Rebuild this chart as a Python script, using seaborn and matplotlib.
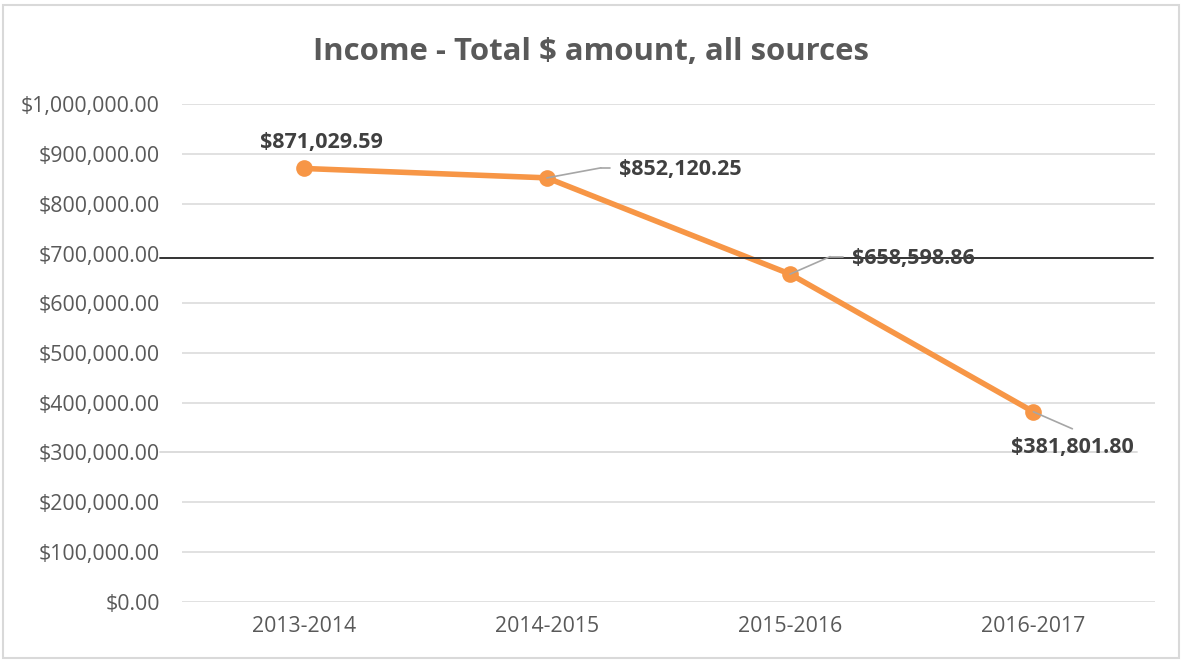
import matplotlib
matplotlib.use("Agg")
import matplotlib.pyplot as plt
import matplotlib.transforms as mtransforms
from matplotlib.patches import Rectangle
from matplotlib.ticker import FuncFormatter, MultipleLocator
import pandas as pd
import seaborn as sns

# chart data
years = ["2013-2014", "2014-2015", "2015-2016", "2016-2017"]
income = [871029.59, 852120.25, 658598.86, 381801.80]
grid_values = [0, 100_000, 200_000, 400_000, 500_000, 600_000, 800_000, 900_000, 1_000_000]
title = "Income - Total $ amount, all sources"

ORANGE = "#F79646"
GRID = "#D9D9D9"
TICK = "#595959"
LABEL = "#404040"

sns.set_theme(style="white")
plt.rcParams["font.family"] = ["Open Sans", "DejaVu Sans"]

df = pd.DataFrame({"year": years, "income": income})

fig = plt.figure(figsize=(11.82, 6.6), dpi=100)
ax = fig.add_axes([182 / 1182, 1 - 601.7 / 660, (1155 - 182) / 1182, (601.7 - 104.3) / 660])

sns.lineplot(data=df, x="year", y="income", ax=ax, color=ORANGE, linewidth=4,
             marker="o", markersize=12, markeredgewidth=0, sort=False, zorder=5)

ax.set_xlim(-0.5, 3.5)
ax.set_ylim(0, 1_000_000)
ax.yaxis.set_major_locator(MultipleLocator(100_000))
ax.yaxis.set_major_formatter(FuncFormatter(lambda v, p: f"${v:,.2f}"))
ax.grid(False)
for s in ax.spines.values():
    s.set_visible(False)
ax.set_xlabel("")
ax.set_ylabel("")
ax.tick_params(axis="y", labelsize=15.3, labelcolor=TICK, length=0, pad=16)
ax.tick_params(axis="x", labelsize=15.3, labelcolor=TICK, length=0, pad=10)

# gridlines; the 300k and 700k ones are drawn by hand in the source
for g in grid_values:
    ax.axhline(g, color=GRID, linewidth=1.1, zorder=1)
ax.axhline(300_000, xmin=-22 / 973, xmax=(1137 - 182) / 973, color=GRID, linewidth=1.3, clip_on=False, zorder=1)
ax.axhline(691_600, xmin=-22 / 973, xmax=(1153 - 182) / 973, color="#333333", linewidth=1.4, clip_on=False, zorder=6)

# data labels, offsets in pixels from each point (x right, y up)
px = 0.72
label_offsets = [(18, 26, "center"), (72, 8, "left"), (62, 16, "left"), (39, -36, "center")]
leaders = [None, [(0, 0), (54, 10), (63, 10)], [(0, 0), (40, 17.5), (53, 17.5)], [(0, 0), (39, -17)]]
for i, (yr, v) in enumerate(zip(years, income)):
    dx, dy, ha = label_offsets[i]
    ax.annotate(f"${v:,.2f}", xy=(i, v), xytext=(dx * px, dy * px), textcoords="offset points",
                ha=ha, va="center", fontsize=15.5, fontweight="bold", color=LABEL, zorder=7)
    if leaders[i]:
        pts = leaders[i]
        for (ox, oy), (ox2, oy2) in zip(pts[:-1], pts[1:]):
            p0 = mtransforms.offset_copy(ax.transData, fig=fig, x=ox * px, y=oy * px, units="points").transform((i, v))
            p1 = mtransforms.offset_copy(ax.transData, fig=fig, x=ox2 * px, y=oy2 * px, units="points").transform((i, v))
            fig.add_artist(plt.Line2D([p0[0], p1[0]], [p0[1], p1[1]], transform=None,
                                      color="#A6A6A6", linewidth=1.2, zorder=6))

fig.suptitle(title, x=0.5, y=1 - 52 / 660, va="center", fontsize=22.4, fontweight="bold", color=TICK)

# outer chart border
fig.patches.append(Rectangle((3 / 1182, 2 / 660), 1176 / 1182, 653 / 660, transform=fig.transFigure,
                             fill=False, edgecolor=GRID, linewidth=1.5))

fig.savefig("out.png", dpi=100)
